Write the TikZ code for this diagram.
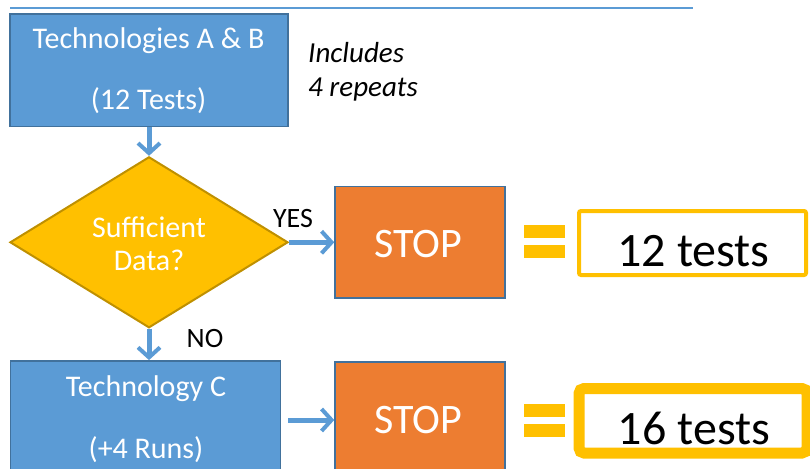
\documentclass[tikz,border=0pt]{standalone}
\usepackage{fontspec}
\setmainfont{Carlito}
\usetikzlibrary{arrows.meta,shapes.geometric}
\definecolor{bluefill}{HTML}{5B9BD5}
\definecolor{bluedark}{HTML}{41719C}
\definecolor{goldfill}{HTML}{FFC000}
\definecolor{golddark}{HTML}{BF9000}
\definecolor{orangefill}{HTML}{ED7D31}
\begin{document}
\begin{tikzpicture}[x=1pt,y=-1pt,
  bluebox/.style={draw=bluedark, line width=1.8pt, fill=bluefill, inner sep=0pt},
  stopbox/.style={draw=bluedark, line width=1.5pt, fill=orangefill, inner sep=0pt, minimum width=170pt},
  flow/.style={draw=bluefill, line width=5pt, -{Straight Barb[length=10pt,width=22pt,line width=4pt]}},
  wtext/.style={text=white, font=\fontsize{30}{30}\selectfont, inner sep=0pt, anchor=base},
  btext/.style={text=black, font=\fontsize{28}{28}\selectfont, inner sep=0pt, anchor=base},
  stoptext/.style={text=white, font=\fontsize{42}{42}\selectfont, inner sep=0pt, anchor=base},
  resulttext/.style={text=black, font=\fontsize{48}{48}\selectfont, inner sep=0pt, anchor=base},
  eqbar/.style={fill=goldfill, draw=none}]
\useasboundingbox (0,0) rectangle (810,468);
\clip (0,0) rectangle (810,468);

% top rule
\draw[line width=1.2pt, bluefill] (10,8) -- (693,8);

% Technologies A & B
\node[bluebox, minimum width=278pt, minimum height=112.5pt] (ab) at (149,70.3) {};
\node[wtext] (abt1) at (148.5,49) {Technologies A \& B};
\node[wtext] (abt2) at (148.5,110) {(12 Tests)};

% note
\node[btext, anchor=base west, font=\itshape\fontsize{29}{29}\selectfont] (inc1) at (308,63) {Includes};
\node[btext, anchor=base west, font=\itshape\fontsize{29}{29}\selectfont] (inc2) at (308,96) {4 repeats};

% decision
\node[diamond, draw=golddark, line width=2pt, fill=goldfill, minimum width=278pt, minimum height=171pt, inner sep=0pt] (dia) at (149,242.3) {};
\node[wtext] (dt1) at (149,237) {Sufficient};
\node[wtext] (dt2) at (149,270) {Data?};

% stop 1
\node[stopbox, minimum height=111.3pt] (stop1) at (420,242.3) {};
\node[stoptext] (st1) at (418,257) {STOP};

% equals 1
\fill[eqbar] (524,225) rectangle (565,238);
\fill[eqbar] (524,245) rectangle (565,258);

% result 1
\node[draw=goldfill, line width=4pt, rounded corners=2pt, fill=white, minimum width=227pt, minimum height=64pt, inner sep=0pt] (r1) at (692.5,243) {};
\node[resulttext] (r1t) at (693.5,266) {12 tests};

% Technology C
\node[bluebox, minimum width=270pt, minimum height=129pt] (tc) at (145.5,425.5) {};
\node[wtext] (tct1) at (146,396) {Technology C};
\node[wtext] (tct2) at (146,458) {(+4 Runs)};

% stop 2
\node[stopbox, minimum height=128pt] (stop2) at (420,426) {};
\node[stoptext] (st2) at (418,433) {STOP};

% equals 2
\fill[eqbar] (524,404) rectangle (565,417);
\fill[eqbar] (524,424) rectangle (565,437);

% result 2
\node[draw=goldfill, line width=11pt, rounded corners=5pt, fill=white, minimum width=228pt, minimum height=64.5pt, inner sep=0pt] (r2) at (693,420.75) {};
\node[resulttext] (r2t) at (694,444) {16 tests};

% connectors
\coordinate (tcout) at (tc.east |- 0,420);
\coordinate (stopin) at (stop2.west |- 0,420);
\draw[flow] (ab.south) -- (dia.north);
\draw[flow] (dia.east) -- (stop1.west);
\draw[flow] (dia.south) -- (dia.south |- tc.north);
\draw[flow, shorten <=7pt] (tcout) -- (stopin);

% labels
\node[btext, anchor=base] (yes) at (293,227) {YES};
\node[btext, anchor=base] (no) at (205,347) {NO};
\end{tikzpicture}
\end{document}
